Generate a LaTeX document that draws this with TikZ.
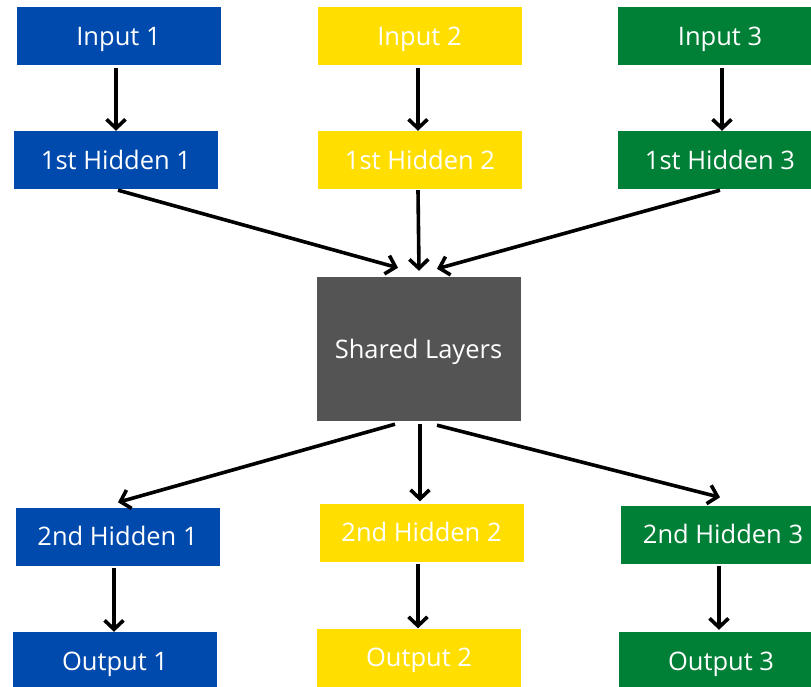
\documentclass[tikz,border=0pt]{standalone}
\usepackage{fontspec}
\setmainfont{Open Sans}
\usetikzlibrary{arrows.meta,calc}

\definecolor{nnblue}{RGB}{0,74,173}
\definecolor{nnyellow}{RGB}{255,222,0}
\definecolor{nngreen}{RGB}{0,128,55}
\definecolor{nngrey}{RGB}{84,84,84}

\tikzset{
  box/.style={rectangle, draw=none, minimum width=204pt, minimum height=58pt,
              inner sep=0pt, text=white, font=\fontsize{25.5}{30}\selectfont,
              text height=18.2pt, text depth=0pt},
  bluebox/.style={box, fill=nnblue},
  yellowbox/.style={box, fill=nnyellow},
  greenbox/.style={box, fill=nngreen},
  sharedbox/.style={box, fill=nngrey, minimum height=144pt},
  arr/.style={line width=3.6pt, -{Straight Barb[length=9pt,width=19pt]}},
}

\begin{document}
\begin{tikzpicture}[x=1pt, y=-1pt]
  \useasboundingbox (0,0) rectangle (811,687);
  \clip (0,0) rectangle (811,687);

  % input layer
  \node[bluebox]   (in1) at (118.5,36.5) {Input 1};
  \node[yellowbox] (in2) at (419.5,36.5) {Input 2};
  \node[greenbox]  (in3) at (720,36.5)   {Input 3};

  % first task-specific hidden layer
  \node[bluebox]   (ha1) at (116,160) {1st Hidden 1};
  \node[yellowbox] (ha2) at (420,160) {1st Hidden 2};
  \node[greenbox]  (ha3) at (720,160) {1st Hidden 3};

  % shared trunk
  \node[sharedbox] (sh) at (418.5,349) {Shared Layers};

  % second task-specific hidden layer
  \node[bluebox]   (hb1) at (117.5,536.5) {2nd Hidden 1};
  \node[yellowbox] (hb2) at (421.5,532.5) {2nd Hidden 2};
  \node[greenbox]  (hb3) at (723,534.5)   {2nd Hidden 3};

  % outputs
  \node[bluebox]   (out1) at (115,661)   {Output 1};
  \node[yellowbox] (out2) at (419,657.5) {Output 2};
  \node[greenbox]  (out3) at (721,661)   {Output 3};

  % connection points around the shared block
  \coordinate (shinL) at ($(sh.north)+(-20.5,-9)$);
  \coordinate (shinC) at ($(sh.north)+(0.5,-6)$);
  \coordinate (shinR) at ($(sh.north)+(18.5,-8)$);
  \coordinate (shoutL) at ($(sh.south)+(-23.5,3)$);
  \coordinate (shoutC) at ($(sh.south)+(1.5,3)$);
  \coordinate (shoutR) at ($(sh.south)+(18.5,4)$);
  \coordinate (hb1in) at ($(hb1.north)+(0.5,-5)$);
  \coordinate (hb2in) at ($(hb2.north)+(-1.5,-2)$);
  \coordinate (hb3in) at ($(hb3.north)+(-3,-8)$);

  % input -> first hidden
  \draw[arr] ($(ha1.north |- in1.south)+(0,2)$) -- (ha1.north);
  \draw[arr] ($(ha2.north |- in2.south)+(-2,2)$) -- ($(ha2.north)+(-2,0)$);
  \draw[arr] ($(ha3.north |- in3.south)+(2,2)$) -- ($(ha3.north)+(2,0)$);

  % first hidden -> shared
  \draw[arr] ($(ha1.south)+(2,1)$) -- (shinL);
  \draw[arr] ($(ha2.south)+(-2,1)$) -- (shinC);
  \draw[arr] ($(ha3.south)+(0,1)$) -- (shinR);

  % shared -> second hidden
  \draw[arr] (shoutL) -- (hb1in);
  \draw[arr] (shoutC) -- (hb2in);
  \draw[arr] (shoutR) -- (hb3in);

  % second hidden -> outputs
  \draw[arr] ($(out1.north |- hb1.south)+(-1,2)$) -- ($(out1.north)+(-1,0)$);
  \draw[arr] ($(out2.north |- hb2.south)+(-1,2)$) -- ($(out2.north)+(-1,0)$);
  \draw[arr] ($(out3.north |- hb3.south)+(-2,2)$) -- ($(out3.north)+(-2,-2)$);
\end{tikzpicture}
\end{document}
